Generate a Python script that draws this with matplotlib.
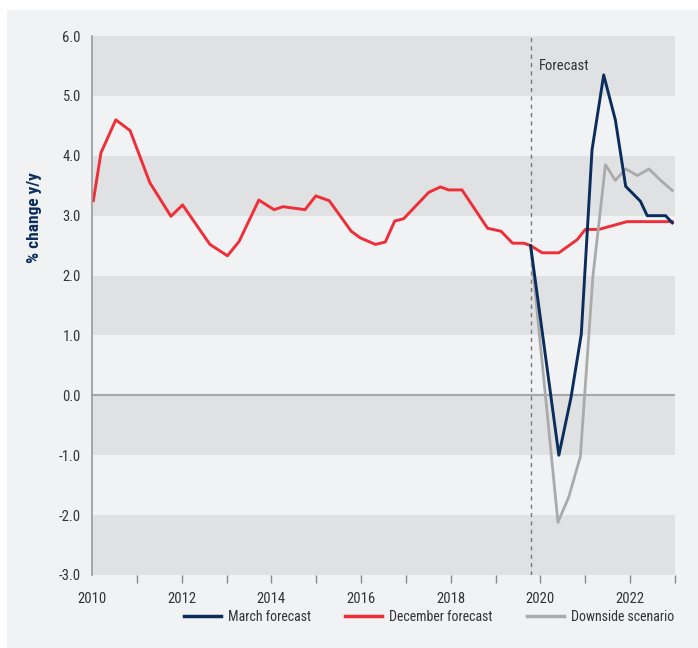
import matplotlib
matplotlib.use("Agg")
import matplotlib.pyplot as plt
from matplotlib import font_manager
from matplotlib.patches import Rectangle
from matplotlib.lines import Line2D

# look for a narrow/condensed face, the reference uses a condensed sans
fonts = font_manager.fontManager.ttflist
narrow = None
for name in ['Liberation Sans Narrow', 'Roboto Condensed', 'Open Sans Condensed']:
    if any(f.name == name for f in fonts):
        narrow = (name, 'normal')
        break
if narrow is None:
    for f in fonts:
        if f.stretch in ('condensed', 'semi-condensed') and 'Mono' not in f.name:
            narrow = (f.name, f.stretch)
            break
if narrow is None:
    narrow = ('Roboto', 'normal')
plt.rcParams['font.family'] = [narrow[0], 'DejaVu Sans']
plt.rcParams['font.stretch'] = narrow[1]

# December forecast (history + forecast), decimal years
dec_x = [2010.03, 2010.20, 2010.53, 2010.85, 2011.29, 2011.76, 2012.02, 2012.63,
         2013.02, 2013.28, 2013.72, 2014.06, 2014.26, 2014.75, 2014.99, 2015.29,
         2015.78, 2015.98, 2016.32, 2016.54, 2016.75, 2016.95, 2017.51, 2017.77,
         2017.95, 2018.25, 2018.82, 2019.12, 2019.38, 2019.63, 2019.78, 2020.04,
         2020.41, 2020.82, 2021.00, 2021.30, 2021.93, 2022.94]
dec_y = [3.25, 4.05, 4.60, 4.42, 3.55, 2.99, 3.18, 2.52,
         2.33, 2.57, 3.26, 3.10, 3.15, 3.10, 3.33, 3.25,
         2.74, 2.63, 2.52, 2.56, 2.91, 2.95, 3.39, 3.48,
         3.43, 3.43, 2.79, 2.74, 2.54, 2.54, 2.50, 2.38,
         2.38, 2.60, 2.77, 2.77, 2.90, 2.90]

# March forecast
mar_x = [2019.78, 2020.41, 2020.68, 2020.91, 2021.15, 2021.41, 2021.67, 2021.90,
         2022.23, 2022.38, 2022.79, 2022.94]
mar_y = [2.50, -1.00, -0.04, 1.02, 4.10, 5.35, 4.60, 3.49,
         3.24, 3.00, 3.00, 2.88]

# Downside scenario
down_x = [2019.78, 2020.39, 2020.63, 2020.89, 2021.17, 2021.45, 2021.67, 2021.90,
          2022.16, 2022.42, 2022.68, 2022.94]
down_y = [2.50, -2.12, -1.70, -1.02, 1.99, 3.85, 3.59, 3.78,
          3.67, 3.78, 3.59, 3.42]

forecast_start = 2019.78
y_ticks = [6, 5, 4, 3, 2, 1, 0, -1, -2, -3]
x_years = list(range(2010, 2024))

panel = '#f1f2f4'
band = '#e0e1e3'
navy = '#0a2d5c'
red = '#ee2e38'
grey = '#aaaaaa'

fig = plt.figure(figsize=(6.98, 6.48), dpi=100)
fig.patch.set_facecolor('white')
fig.patches.append(Rectangle((7 / 698, 0), 1, 1 - 10 / 648, transform=fig.transFigure,
                             facecolor=panel, edgecolor='none', zorder=-10))

ax = fig.add_axes([92 / 698, 1 - 575 / 648, (675 - 92) / 698, (575 - 36) / 648])
ax.set_facecolor(panel)

# alternating grey bands
for top in [6, 4, 2, 0, -2]:
    ax.axhspan(top - 1, top, color=band, lw=0, zorder=0)
ax.axhline(0, color='#a8a8a8', lw=1.5, zorder=1)

ax.axvline(forecast_start, color='#777777', lw=1, ls=(0, (3, 3)), zorder=1)
ax.text(forecast_start + 0.19, 5.5, 'Forecast', fontsize=10.5, color='#333333',
        va='center', ha='left')

ax.plot(down_x, down_y, color=grey, lw=2, zorder=3)
ax.plot(mar_x, mar_y, color=navy, lw=2.1, zorder=4)
ax.plot(dec_x, dec_y, color=red, lw=2.1, zorder=2)

ax.set_xlim(2010, 2023)
ax.set_ylim(-3, 6)
ax.set_yticks(y_ticks)
ax.set_yticklabels([f'{v:.1f}' for v in y_ticks])
ax.set_xticks(x_years)
ax.set_xticklabels([str(y) if y % 2 == 0 else '' for y in x_years])
ax.tick_params(axis='x', length=6, color='#888888', width=1, pad=6,
               labelsize=10.5, labelcolor='#333333')
ax.tick_params(axis='y', length=0, pad=8, labelsize=10.5, labelcolor='#333333')
ax.xaxis.get_major_ticks()[0].tick1line.set_visible(False)

for s in ['top', 'right', 'bottom']:
    ax.spines[s].set_visible(False)
ax.spines['left'].set_color('#999999')
ax.spines['left'].set_linewidth(1.2)

fig.text(35 / 698, 1 - 218 / 648, '% change y/y', rotation=90, fontsize=12.5,
         fontweight='bold', color=navy, ha='center', va='center')

handles = [Line2D([], [], color=navy, lw=2.5),
           Line2D([], [], color=red, lw=2.5),
           Line2D([], [], color=grey, lw=2.5)]
fig.legend(handles, ['March forecast', 'December forecast', 'Downside scenario'],
           loc='center', bbox_to_anchor=(429 / 698, 1 - 617 / 648), ncol=3,
           frameon=False, fontsize=10, handlelength=2.65, columnspacing=2.5,
           handletextpad=0.5, labelcolor='#333333')

fig.savefig('out.png', dpi=100)
